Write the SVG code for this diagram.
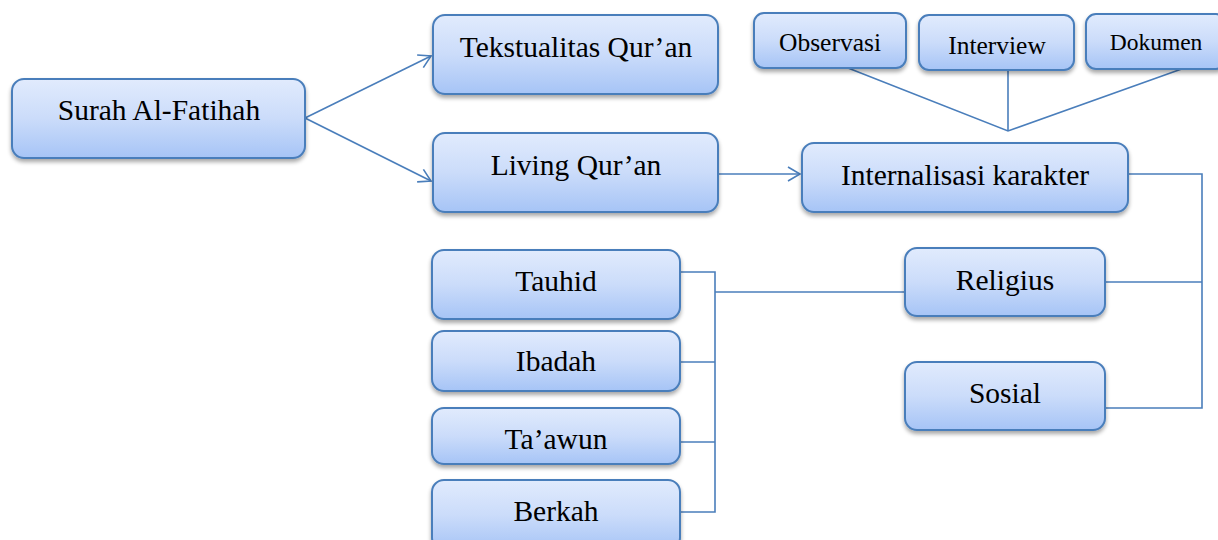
<svg xmlns="http://www.w3.org/2000/svg" width="1218" height="540" viewBox="0 0 1218 540">
<style>
.box{fill:url(#g);stroke:#4a7ebb;stroke-width:2;filter:url(#sh)}
.t{font-family:'Liberation Serif',serif;fill:#000;text-anchor:middle;font-size:29.5px}
.s{font-size:25.5px}
.c{fill:none;stroke:#4a7ebb;stroke-width:1.6}
</style>
<defs>
<linearGradient id="g" x1="0" y1="0" x2="0" y2="1">
<stop offset="0" stop-color="#e1ebfd"/>
<stop offset="0.5" stop-color="#cbdcfa"/>
<stop offset="1" stop-color="#a6c4f6"/>
</linearGradient>
<filter id="sh" x="-10%" y="-10%" width="120%" height="140%">
<feGaussianBlur in="SourceAlpha" stdDeviation="2"/>
<feOffset dx="0" dy="3"/>
<feComponentTransfer><feFuncA type="linear" slope="0.35"/></feComponentTransfer>
<feMerge><feMergeNode/><feMergeNode in="SourceGraphic"/></feMerge>
</filter>
<marker id="a" markerWidth="16" markerHeight="16" refX="14" refY="8" orient="auto" markerUnits="userSpaceOnUse">
<path d="M2,1 L14,8 L2,15" fill="none" stroke="#4a7ebb" stroke-width="1.6"/>
</marker>
</defs>
<g id="connectors">
<line class="c" x1="305" y1="118" x2="431" y2="56" marker-end="url(#a)"/>
<line class="c" x1="305" y1="118" x2="431" y2="181" marker-end="url(#a)"/>
<line class="c" x1="718" y1="174" x2="800" y2="174" marker-end="url(#a)"/>
<polyline class="c" points="848,68 1008,131 1190,66"/>
<line class="c" x1="1008" y1="68" x2="1008" y2="131"/>
<polyline class="c" points="1128,174 1202,174 1202,408 1105,408"/>
<line class="c" x1="1105" y1="282" x2="1202" y2="282"/>
<polyline class="c" points="680,272 715,272 715,512 680,512"/>
<line class="c" x1="680" y1="362" x2="715" y2="362"/>
<line class="c" x1="680" y1="442" x2="715" y2="442"/>
<line class="c" x1="715" y1="292" x2="905" y2="292"/>
</g>
<g id="n-surah"><rect class="box" x="12" y="79" width="293" height="79" rx="12"/><text class="t" x="159" y="120">Surah Al-Fatihah</text></g>
<g id="n-tekstualitas"><rect class="box" x="433" y="15" width="285" height="79" rx="12"/><text class="t" x="576" y="57">Tekstualitas Qur’an</text></g>
<g id="n-living"><rect class="box" x="433" y="133" width="285" height="79" rx="12"/><text class="t" x="576" y="175">Living Qur’an</text></g>
<g id="n-internalisasi"><rect class="box" x="802" y="143" width="326" height="69" rx="12"/><text class="t" x="965" y="185">Internalisasi karakter</text></g>
<g id="n-observasi"><rect class="box" x="754" y="13" width="152" height="55" rx="10"/><text class="t s" x="830" y="51">Observasi</text></g>
<g id="n-interview"><rect class="box" x="919" y="15" width="155" height="55" rx="10"/><text class="t s" x="997" y="54">Interview</text></g>
<g id="n-dokumen"><rect class="box" x="1086" y="14" width="140" height="55" rx="10"/><text class="t" x="1156" y="50" style="font-size:23.5px">Dokumen</text></g>
<g id="n-religius"><rect class="box" x="905" y="248" width="200" height="68" rx="12"/><text class="t" x="1005" y="290">Religius</text></g>
<g id="n-sosial"><rect class="box" x="905" y="362" width="200" height="68" rx="12"/><text class="t" x="1005" y="403">Sosial</text></g>
<g id="n-tauhid"><rect class="box" x="432" y="250" width="248" height="69" rx="12"/><text class="t" x="556" y="291">Tauhid</text></g>
<g id="n-ibadah"><rect class="box" x="432" y="331" width="248" height="60" rx="12"/><text class="t" x="556" y="371">Ibadah</text></g>
<g id="n-taawun"><rect class="box" x="432" y="408" width="248" height="56" rx="12"/><text class="t" x="556" y="449">Ta’awun</text></g>
<g id="n-berkah"><rect class="box" x="432" y="480" width="248" height="70" rx="12"/><text class="t" x="556" y="521">Berkah</text></g>
</svg>
